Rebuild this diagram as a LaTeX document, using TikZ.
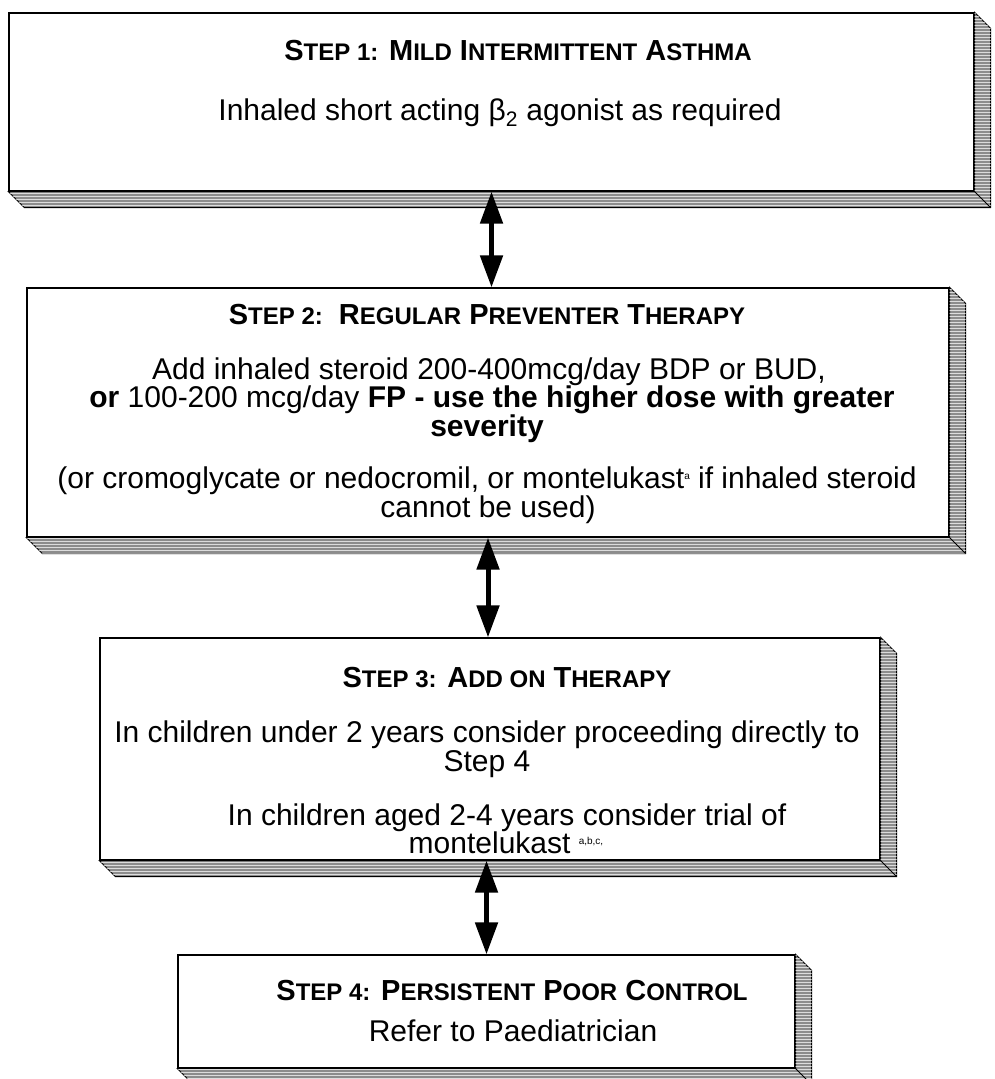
\documentclass[tikz,border=0pt]{standalone}
\usepackage{fontspec}
\setmainfont{Liberation Sans}
\usepackage{tikz}
\usetikzlibrary{calc, arrows.meta, patterns}
\tikzset{>=latex}
\definecolor{bandgray}{RGB}{140, 140, 140}
\definecolor{streak}{RGB}{220, 220, 220}
\newcommand{\bodytext}{\fontsize{30}{28}\selectfont}
\newcommand{\headtext}{\bfseries\fontsize{29}{29}\selectfont}
\newcommand{\lowcaps}[1]{{\fontsize{24}{24}\selectfont #1}}
\newcommand{\supnote}[1]{\raisebox{9pt}{\fontsize{10}{10}\selectfont #1}}
\tikzset{
  stepbox/.style = {draw, line width = 1.2pt, fill = white, inner sep = 0pt},
  band/.style = {draw, line width = 0.8pt, fill = bandgray,
                 postaction = {pattern = horizontal lines, pattern color = streak}},
  twoway/.style = {{Triangle[width=22pt, length=32pt]}-{Triangle[width=22pt, length=32pt]}, line width = 5pt},
  txt/.style = {anchor = base, inner sep = 0pt, font = \bodytext},
  head/.style = {anchor = base, inner sep = 0pt, font = \headtext}
}
% bevelled edge below and right of a box
\newcommand{\slab}[1]{%
  \draw[band] (#1.north east) -- ++(16,16) -- ($(#1.south east)+(16,16)$)
    -- ($(#1.south west)+(16,16)$) -- (#1.south west) -- (#1.south east) -- cycle;
  \draw[line width = 0.8pt] (#1.south east) -- ++(16,16);}

\begin{document}
\begin{tikzpicture}[x = 1pt, y = -1pt]

\useasboundingbox (0,0) rectangle (995,1079);

% the four steps
\node[stepbox, minimum width = 965pt, minimum height = 178pt] (s1) at (491.5, 102) {};
\node[stepbox, minimum width = 922pt, minimum height = 249pt] (s2) at (488, 412.5) {};
\node[stepbox, minimum width = 780pt, minimum height = 222pt] (s3) at (490, 749) {};
\node[stepbox, minimum width = 617pt, minimum height = 113pt] (s4) at (486.5, 1011.5) {};
\slab{s1}
\slab{s2}
\slab{s3}
\slab{s4}

% step 1
\node[head] (h1) at (518, 60) {S\lowcaps{TEP 1:} M\lowcaps{ILD} I\lowcaps{NTERMITTENT} A\lowcaps{STHMA}};
\node[txt] (b1) at (500, 120) {Inhaled short acting β\textsubscript{2} agonist as required};

% step 2
\node[head] (h2) at (487, 324) {S\lowcaps{TEP 2:}~~R\lowcaps{EGULAR} P\lowcaps{REVENTER} T\lowcaps{HERAPY}};
\node[txt] (b2a) at (489, 379) {Add inhaled steroid 200-400mcg/day BDP or BUD,};
\node[txt] (b2b) at (492, 407.5) {\textbf{or} 100-200 mcg/day \textbf{FP - use the higher dose with greater}};
\node[txt] (b2c) at (487, 436) {\textbf{severity}};
\node[txt] (b2d) at (487, 488) {(or cromoglycate or nedocromil, or montelukast\supnote{a} if inhaled steroid};
\node[txt] (b2e) at (488, 517) {cannot be used)};

% step 3
\node[head] (h3) at (507, 687) {S\lowcaps{TEP 3:} A\lowcaps{DD ON} T\lowcaps{HERAPY}};
\node[txt] (b3a) at (487, 742) {In children under 2 years consider proceeding directly to};
\node[txt] (b3b) at (487, 771) {Step 4};
\node[txt] (b3c) at (507, 825) {In children aged 2-4 years consider trial of};
\node[txt] (b3d) at (506, 853.5) {montelukast \supnote{a,b,c,}};

% step 4
\node[head] (h4) at (512, 1000) {S\lowcaps{TEP 4:} P\lowcaps{ERSISTENT} P\lowcaps{OOR} C\lowcaps{ONTROL}};
\node[txt] (b4) at (513, 1041) {Refer to Paediatrician};

% up and down between steps
\draw[twoway] (s1.south) -- (s1.south |- s2.north);
\draw[twoway] (s2.south) -- (s2.south |- s3.north);
\draw[twoway] (s4.north |- s3.south) -- (s4.north);

\end{tikzpicture}
\end{document}
